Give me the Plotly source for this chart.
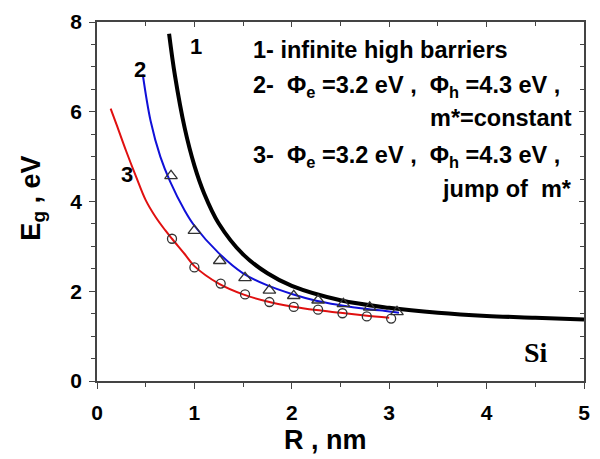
import plotly.graph_objects as go

# Curve 1: infinite high barriers
r1 = [0.74, 0.8, 0.9, 1.0, 1.1, 1.25, 1.5, 1.75, 2.0, 2.5, 3.0, 3.5, 4.0, 4.5, 5.0]
e1 = [7.74, 6.81, 5.64, 4.80, 4.18, 3.51, 2.82, 2.40, 2.12, 1.80, 1.63, 1.52, 1.45, 1.41, 1.37]

# Curve 2: finite barriers, constant effective mass
r2 = [0.47, 0.55, 0.65, 0.75, 0.9, 1.0, 1.25, 1.5, 1.75, 2.0, 2.25, 2.5, 2.75, 3.0, 3.1]
e2 = [6.83, 5.80, 5.00, 4.45, 3.80, 3.46, 2.85, 2.40, 2.13, 1.94, 1.79, 1.69, 1.61, 1.55, 1.52]

# Curve 3: finite barriers, jump of effective mass
r3 = [0.14, 0.2, 0.3, 0.4, 0.5, 0.6, 0.7, 0.77, 0.9, 1.0, 1.25, 1.5, 1.75, 2.0, 2.25, 2.5, 2.75, 3.0]
e3 = [6.07, 5.72, 5.12, 4.56, 4.03, 3.66, 3.36, 3.17, 2.83, 2.56, 2.17, 1.93, 1.77, 1.66, 1.58, 1.52, 1.46, 1.41]

# Computed points (triangles: model 2, circles: model 3)
tri_r = [0.76, 1.0, 1.26, 1.52, 1.77, 2.02, 2.27, 2.53, 2.8, 3.08]
tri_e = [4.57, 3.35, 2.68, 2.30, 2.02, 1.90, 1.80, 1.72, 1.64, 1.54]
circ_r = [0.77, 1.0, 1.27, 1.52, 1.77, 2.02, 2.27, 2.52, 2.77, 3.02]
circ_e = [3.17, 2.53, 2.17, 1.93, 1.76, 1.65, 1.59, 1.51, 1.44, 1.39]

x_ticks = [0, 1, 2, 3, 4, 5]
y_ticks = [0, 2, 4, 6, 8]

FONT = "Arial, Liberation Sans, sans-serif"

fig = go.Figure()
fig.add_trace(go.Scatter(x=r3, y=e3, mode="lines", line=dict(color="#e01010", width=2, shape="spline")))
fig.add_trace(go.Scatter(x=r2, y=e2, mode="lines", line=dict(color="#1010d8", width=2, shape="spline")))
fig.add_trace(go.Scatter(x=r1, y=e1, mode="lines", line=dict(color="black", width=4, shape="spline")))
fig.add_trace(go.Scatter(x=tri_r, y=tri_e, mode="markers",
                         marker=dict(symbol="triangle-up-open", size=11, color="#333333", line=dict(width=1.3))))
fig.add_trace(go.Scatter(x=circ_r, y=circ_e, mode="markers",
                         marker=dict(symbol="circle-open", size=9, color="#333333", line=dict(width=1.3))))

frame = dict(showgrid=False, zeroline=False, showline=True, linecolor="#444", linewidth=1.5, tickcolor="#444")
tick_font = dict(family=FONT, size=21, color="black", weight="bold")

fig.update_layout(
    width=600, height=459,
    margin=dict(l=97, r=10, t=20, b=78),
    paper_bgcolor="white", plot_bgcolor="white",
    showlegend=False,
    xaxis=dict(range=[0, 5], tickvals=x_ticks, ticks="outside", ticklen=6, tickfont=tick_font,
               ticklabelstandoff=6,
               minor=dict(dtick=0.5, ticks="outside", ticklen=4, tickcolor="#444"), **frame),
    yaxis=dict(range=[0, 8], tickvals=y_ticks, ticks="outside", ticklen=6, tickfont=tick_font,
               ticklabelstandoff=3,
               minor=dict(dtick=0.5, ticks="outside", ticklen=4, tickcolor="#444"), **frame),
    xaxis2=dict(range=[0, 5], overlaying="x", side="top", tickvals=x_ticks, ticks="inside", ticklen=5,
                minor=dict(dtick=0.5, ticks="inside", ticklen=4, tickcolor="#444"),
                showticklabels=False, **frame),
    yaxis2=dict(range=[0, 8], overlaying="y", side="right", tickvals=y_ticks, ticks="inside", ticklen=5,
                minor=dict(dtick=0.5, ticks="inside", ticklen=4, tickcolor="#444"),
                showticklabels=False, **frame),
)
# invisible trace so the mirrored frame axes are drawn
fig.add_trace(go.Scatter(x=[0], y=[0], xaxis="x2", yaxis="y2", mode="markers",
                         marker=dict(opacity=0), hoverinfo="skip"))

txt = dict(family=FONT, size=23.5, color="black", weight="bold")
num = dict(family=FONT, size=22, color="black", weight="bold")
title_font = dict(family=FONT, size=27, color="black", weight="bold")
anns = [
    dict(x=-0.132, y=0.51, xref="paper", yref="paper", xanchor="center", yanchor="middle",
         text="E<sub>g</sub> , eV", textangle=-90, font=title_font, showarrow=False),
    dict(x=0.469, y=-0.163, xref="paper", yref="paper", xanchor="center", yanchor="middle",
         text="R , nm", font=title_font, showarrow=False),
    dict(x=1.02, y=7.45, text="1", font=num, showarrow=False),
    dict(x=0.44, y=6.95, text="2", font=num, showarrow=False),
    dict(x=0.31, y=4.6, text="3", font=num, showarrow=False),
    dict(x=1.58, y=7.38, xanchor="left", text="1- infinite high barriers", font=txt, showarrow=False),
    dict(x=1.58, y=6.56, xanchor="left",
         text="2-&nbsp; Φ<sub>e</sub> =3.2 eV ,&nbsp; Φ<sub>h</sub> =4.3 eV ,", font=txt, showarrow=False),
    dict(x=4.9, y=5.85, xanchor="right", text="m*=constant", font=txt, showarrow=False),
    dict(x=1.58, y=5.01, xanchor="left",
         text="3-&nbsp; Φ<sub>e</sub> =3.2 eV ,&nbsp; Φ<sub>h</sub> =4.3 eV ,", font=txt, showarrow=False),
    dict(x=4.9, y=4.28, xanchor="right", text="jump of&nbsp; m*", font=txt, showarrow=False),
    dict(x=4.51, y=0.63, text="Si",
         font=dict(family="Liberation Serif, Times New Roman, serif", size=28, color="black", weight="bold"),
         showarrow=False),
]
fig.update_layout(annotations=anns)

fig.write_html("out.html")
